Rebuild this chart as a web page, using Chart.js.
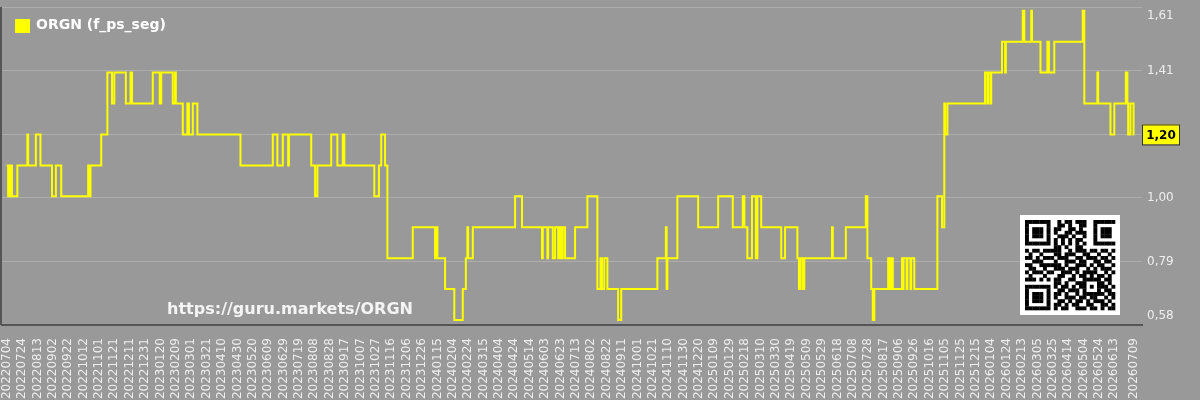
<!DOCTYPE html>
<html>
<head>
<meta charset="utf-8">
<script src="https://cdn.jsdelivr.net/npm/chart.js@4/dist/chart.umd.min.js"></script>
<style>
  html, body { margin: 0; padding: 0; background: #999; }
  #wrap { width: 1200px; height: 400px; position: relative; }
</style>
</head>
<body>
<div id="wrap"><canvas id="chart"></canvas></div>
<script>
const seriesName = 'ORGN (f_ps_seg)';
const watermark = 'https://guru.markets/ORGN';
const lastDay = 1466; // 20260709, days counted from 20220704

// day (since 20220704) on which the value changes, and the new value
const changeDays = [
  0, 2, 4, 5, 6, 7, 14, 27, 28, 38, 44, 59, 64, 71, 106, 107, 109, 123, 131, 137,
  140, 155, 161, 163, 190, 199, 201, 216, 219, 220, 229, 235, 237, 242, 248, 304, 346, 352, 359, 366,
  367, 396, 401, 404, 422, 430, 437, 439, 478, 484, 487, 492, 495, 528, 557, 558, 560, 570, 582, 593,
  597, 599, 600, 606, 661, 670, 696, 697, 703, 704, 710, 713, 717, 718, 720, 721, 722, 723, 726, 739,
  755, 768, 772, 774, 777, 781, 795, 799, 846, 857, 858, 859, 872, 899, 925, 944, 957, 959, 963, 969,
  974, 976, 981, 1007, 1012, 1028, 1030, 1032, 1035, 1037, 1073, 1074, 1091, 1117, 1119, 1124, 1126, 1128, 1146, 1147,
  1148, 1150, 1151, 1152, 1164, 1165, 1166, 1170, 1171, 1175, 1176, 1180, 1210, 1216, 1219, 1220, 1223, 1272, 1275, 1276,
  1279, 1280, 1294, 1298, 1299, 1321, 1323, 1332, 1333, 1344, 1353, 1355, 1362, 1399, 1401, 1418, 1419, 1435, 1440, 1455,
  1457, 1458, 1461, 1465, 1466
];
const levels = [
  1.10, 1.00, 1.10, 1.00, 1.10, 1.00, 1.10, 1.20, 1.10, 1.20, 1.10, 1.00, 1.10, 1.00, 1.10, 1.00, 1.10, 1.20, 1.40, 1.30,
  1.40, 1.30, 1.40, 1.30, 1.40, 1.30, 1.40, 1.30, 1.40, 1.30, 1.20, 1.30, 1.20, 1.30, 1.20, 1.10, 1.20, 1.10, 1.20, 1.10,
  1.20, 1.10, 1.00, 1.10, 1.20, 1.10, 1.20, 1.10, 1.00, 1.10, 1.20, 1.10, 0.80, 0.90, 0.80, 0.90, 0.80, 0.70, 0.60, 0.70,
  0.80, 0.90, 0.80, 0.90, 1.00, 0.90, 0.80, 0.90, 0.80, 0.90, 0.80, 0.90, 0.80, 0.90, 0.80, 0.90, 0.80, 0.90, 0.80, 0.90,
  1.00, 0.70, 0.80, 0.70, 0.80, 0.70, 0.60, 0.70, 0.80, 0.90, 0.70, 0.80, 1.00, 0.90, 1.00, 0.90, 1.00, 0.90, 0.80, 1.00,
  0.80, 1.00, 0.90, 0.80, 0.90, 0.80, 0.70, 0.80, 0.70, 0.80, 0.90, 0.80, 0.90, 1.00, 0.80, 0.70, 0.60, 0.70, 0.80, 0.70,
  0.80, 0.70, 0.80, 0.70, 0.80, 0.70, 0.80, 0.70, 0.80, 0.70, 0.80, 0.70, 1.00, 0.90, 1.30, 1.20, 1.30, 1.40, 1.30, 1.40,
  1.30, 1.40, 1.50, 1.40, 1.50, 1.60, 1.50, 1.60, 1.50, 1.40, 1.50, 1.40, 1.50, 1.60, 1.30, 1.40, 1.30, 1.20, 1.30, 1.40,
  1.30, 1.20, 1.30, 1.20, 1.20
];

// y axis: min/max and the five equal steps between them
const yTicks = [0.584, 0.7896, 0.9952, 1.2008, 1.4064, 1.612];

// x axis: a label every 20 days, plus the last day
const tickDays = [];
for (let d = 0; d <= 1440; d += 20) tickDays.push(d);
tickDays.push(lastDay);

const qrRows = [
  '1111111001011011100111111',
  '1000001001101001100100000',
  '1011101011001101000101110',
  '1011101010011011100101110',
  '1011101001110100100101110',
  '1000001010101011000100000',
  '1111111010101010100111111',
  '0000000011010011000000000',
  '1011011111001011101101101',
  '0100100011011100110010010',
  '1101011101110011011101101',
  '0011100010011101100110110',
  '1100111111010011101011001',
  '0110010011101110010101110',
  '1011101100111010111100101',
  '0100010001100101101011010',
  '1110101011001100111110110',
  '0000000011010011100011010',
  '1111111010110101101011101',
  '1000001001101110100010110',
  '1011101011010010111111011',
  '1011101010011101101100101',
  '1011101001101011010111010',
  '1000001011010110011001101',
  '1111111010110011101101011'
];

function dayLabel(d) {
  const t = new Date(Date.UTC(2022, 6, 4) + d * 86400000);
  return t.getUTCFullYear() + String(t.getUTCMonth() + 1).padStart(2, '0') + String(t.getUTCDate()).padStart(2, '0');
}

const points = changeDays.map((d, i) => ({ x: d, y: levels[i] }));
const fmt = (v) => v.toFixed(2).replace('.', ',');

const decor = {
  id: 'decor',
  beforeDraw(chart) {
    const { ctx, width, height } = chart;
    ctx.save();
    ctx.fillStyle = '#999999';
    ctx.fillRect(0, 0, width, height);
    ctx.restore();
  },
  beforeDatasetsDraw(chart) {
    const { ctx, chartArea: a } = chart;
    ctx.save();
    ctx.font = 'bold 16px "DejaVu Sans"';
    ctx.fillStyle = '#f4f4f4';
    ctx.textAlign = 'center';
    ctx.textBaseline = 'middle';
    ctx.fillText(watermark, a.left + 288, a.bottom - 15);
    ctx.restore();
  },
  afterDraw(chart) {
    const { ctx, chartArea: a, scales } = chart;
    ctx.save();
    // left border
    ctx.fillStyle = '#555';
    ctx.fillRect(0, a.top, 2, a.bottom - a.top);

    // legend
    ctx.fillStyle = '#ffff00';
    ctx.fillRect(15, 19, 15, 14);
    ctx.font = 'bold 14px "DejaVu Sans"';
    ctx.fillStyle = '#ffffff';
    ctx.textAlign = 'left';
    ctx.textBaseline = 'middle';
    ctx.fillText(seriesName, 36, 25);

    // QR code
    const qx = a.right - 122, qy = a.bottom - 110, qs = 100;
    ctx.fillStyle = '#ffffff';
    ctx.fillRect(qx, qy, qs, qs);
    const m = 3.6, off = 5;
    ctx.fillStyle = '#000000';
    qrRows.forEach((row, r) => {
      for (let c = 0; c < row.length; c++) {
        if (row[c] === '1') ctx.fillRect(qx + off + c * m, qy + off + r * m, m + 0.3, m + 0.3);
      }
    });

    // last value box
    const last = levels[levels.length - 1];
    const y = scales.y.getPixelForValue(last);
    ctx.fillStyle = '#ffff00';
    ctx.fillRect(a.right, y - 10, 37, 20);
    ctx.strokeStyle = '#333';
    ctx.lineWidth = 1;
    ctx.strokeRect(a.right + 0.5, y - 9.5, 37, 20);
    ctx.fillStyle = '#000';
    ctx.font = 'bold 12px "DejaVu Sans"';
    ctx.textAlign = 'center';
    ctx.fillText(fmt(last), a.right + 19, y + 1);
    ctx.restore();
  }
};

new Chart(document.getElementById('chart'), {
  type: 'line',
  data: {
    datasets: [{
      label: seriesName,
      data: points,
      borderColor: '#ffff00',
      borderWidth: 2,
      pointRadius: 0,
      stepped: true,
      fill: false,
    }]
  },
  options: {
    responsive: true,
    maintainAspectRatio: false,
    animation: false,
    layout: { padding: { top: 7, left: 2, bottom: 0 } },
    plugins: { legend: { display: false }, tooltip: { enabled: false } },
    scales: {
      x: {
        type: 'linear',
        min: -6,
        max: 1476,
        afterBuildTicks: (s) => { s.ticks = tickDays.map(v => ({ value: v })); },
        afterFit: (s) => { s.height = 75; s.paddingLeft = 0; s.paddingRight = 0; },
        grid: { display: false, drawTicks: false },
        border: { display: true, color: '#555555', width: 2 },
        ticks: {
          autoSkip: false,
          minRotation: 90,
          maxRotation: 90,
          padding: 13,
          color: '#eeeeee',
          font: { family: 'DejaVu Sans', size: 12 },
          callback: (v) => dayLabel(v),
        }
      },
      y: {
        position: 'right',
        min: yTicks[0],
        max: yTicks[yTicks.length - 1],
        afterBuildTicks: (s) => { s.ticks = yTicks.map(v => ({ value: v })); },
        afterFit: (s) => { s.width = 58; s.paddingTop = 0; s.paddingBottom = 0; },
        grid: { color: 'rgba(255,255,255,0.2)', drawTicks: false },
        border: { display: false },
        ticks: {
          padding: 5,
          color: '#eeeeee',
          font: { family: 'DejaVu Sans', size: 12, lineHeight: 1.5 },
          callback: (v, i) => {
            if (i === 0) return [fmt(v), ''];
            if (i === yTicks.length - 1) return ['', fmt(v)];
            return fmt(v);
          }
        }
      }
    }
  },
  plugins: [decor]
});
</script>
</body>
</html>
